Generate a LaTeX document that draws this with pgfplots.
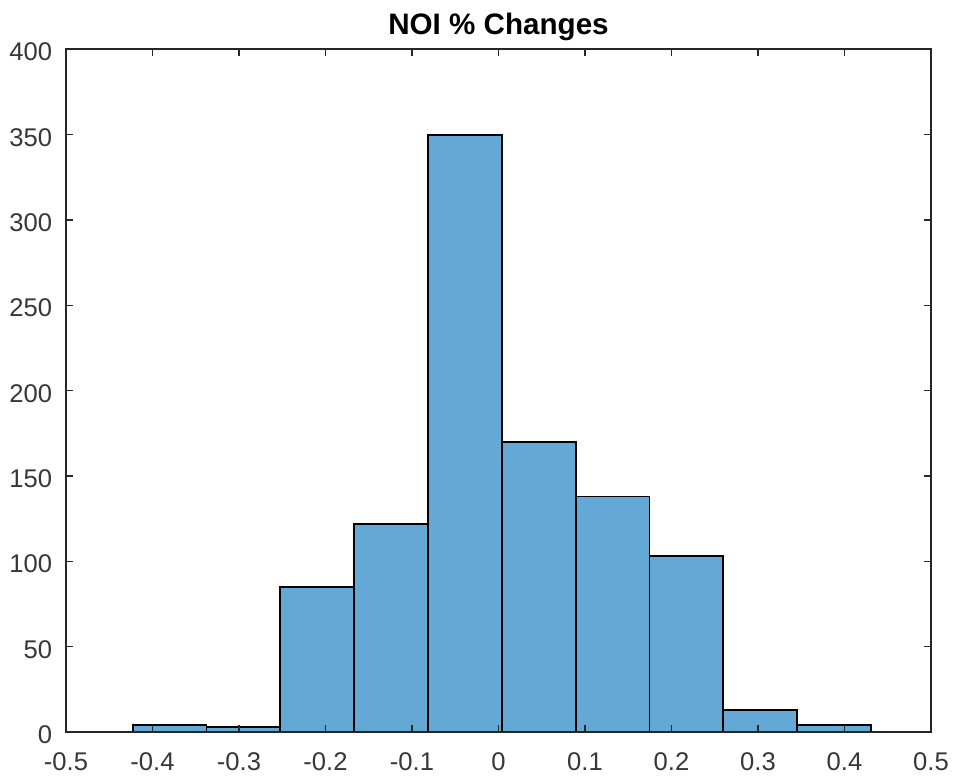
\documentclass[border=0pt]{standalone}
\usepackage{pgfplots}
\pgfplotsset{compat=1.18}
\usepackage{fontspec}
\setmainfont{Liberation Sans}
\definecolor{barblue}{RGB}{100,168,214}
\definecolor{axgray}{RGB}{38,38,38}
\definecolor{lblgray}{RGB}{55,55,55}
\begin{document}
\begin{tikzpicture}
\begin{axis}[
 name=ax,
 at={(0,0)}, anchor=south west,
 scale only axis,
 width=432.5pt, height=341.35pt,
 xmin=-0.5, xmax=0.5, ymin=0, ymax=400,
 xtick={-0.5,-0.4,-0.3,-0.2,-0.1,0,0.1,0.2,0.3,0.4,0.5},
 ytick={0,50,100,150,200,250,300,350,400},
 tick align=inside,
 major tick length=3.3pt,
 axis line style={axgray, line width=0.8pt},
 every tick/.style={axgray, line width=0.8pt},
 ticklabel style={font=\fontsize{12.8}{15}\selectfont, text=lblgray},
 /pgf/number format/assume math mode=true,
 xticklabel style={inner sep=0pt, anchor=north, yshift=-10pt},
 yticklabel style={inner sep=0pt, anchor=east, xshift=-6.7pt, yshift=-1.4pt},
 title={NOI \% Changes},
 title style={font=\fontsize{14.8}{18}\selectfont\bfseries, at={(0.5,1)}, anchor=base, yshift=1.5pt},
 axis on top,
]
\addplot[ybar interval, fill=barblue, draw=black, line width=0.95pt] coordinates {
(-0.4229,4) (-0.33755,3) (-0.2522,85) (-0.16685,122) (-0.0815,350)
(0.00385,170) (0.0892,138) (0.17455,103) (0.2599,13) (0.34525,4) (0.4306,0)
};
\end{axis}
\pgfresetboundingbox
\path (-33pt,-24pt) rectangle (444.5pt,366pt);
\end{tikzpicture}
\end{document}
